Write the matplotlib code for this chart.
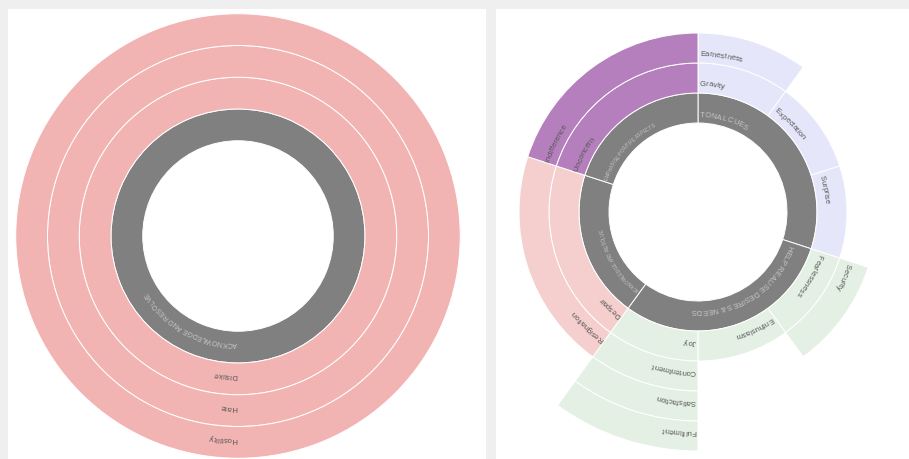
import numpy as np
import matplotlib
matplotlib.use("Agg")
import matplotlib.pyplot as plt
from matplotlib.patches import Wedge, Rectangle
from matplotlib.font_manager import FontProperties, findfont, get_font

DPI = 100
FONT = "Liberation Sans"

# left sunburst: one chain, each level a full ring
left_chain = ["ACKNOWLEDGE AND RESOLVE", "Dislike", "Hate", "Hostility"]
left_color = "#f2b4b3"

# right sunburst
groups = ["TONAL CUES", "HELP REALISE DESIRES & NEEDS",
          "ACKNOWLEDGE AND RESOLVE", "EMPHASISE POSITIVE ASPECTS"]
group_colors = ["#e6e6fa", "#e4f0e4", "#f5cfce", "#b47fbc"]
branches = [
    ["Gravity", "Earnestness"],
    ["Expectation"],
    ["Surprise"],
    ["Fearlessness", "Security"],
    ["Enthusiasm"],
    ["Joy", "Contentment", "Satisfaction", "Fulfilment"],
    ["Despair", "Resignation"],
    ["Unconcern", "Indifference"],
]
branch_group = [0, 0, 0, 1, 1, 1, 2, 3]
branch_weight = [1, 1, 1, 1, 1, 1, 2, 2]

GREY = "#808080"
LABEL = "#555555"
GREY_LABEL = "#c8c8c8"


def wedge(ax, c, r0, r1, a0, a1, color):
    # a0, a1: degrees clockwise from 12 o'clock
    ax.add_patch(Wedge(c, r1, 90 - a1, 90 - a0, width=r1 - r0,
                       facecolor=color, edgecolor="white", lw=0.7))


def arc_text(ax, text, c, r, start, size, color, pad=2.0):
    font = get_font(findfont(FontProperties(family=FONT)))
    font.set_size(size, DPI)
    s = pad
    for ch in text:
        adv = font.load_char(ord(ch)).linearHoriAdvance / 65536
        a = np.radians(start) + (s + adv / 2) / r
        if ch.strip():
            ax.text(c[0] + r * np.sin(a), c[1] + r * np.cos(a), ch,
                    rotation=-np.degrees(a), rotation_mode="anchor",
                    ha="center", va="baseline", fontsize=size,
                    color=color, family=FONT)
        s += adv


fig = plt.figure(figsize=(9.09, 4.6), dpi=DPI)
fig.patch.set_facecolor("#efefef")
ax = fig.add_axes([0, 0, 1, 1])
ax.set_xlim(0, 909)
ax.set_ylim(0, 460)
ax.axis("off")

ax.add_patch(Rectangle((8, 0), 478, 450, facecolor="white", lw=0))
ax.add_patch(Rectangle((496, 0), 413, 450, facecolor="white", lw=0))

# ---- left chart
cl = (238, 223)
wl = 31.75
hole = 3 * wl
for i, name in enumerate(left_chain):
    r0 = hole + i * wl
    col = GREY if i == 0 else left_color
    ax.add_patch(Wedge(cl, r0 + wl, 0, 360, width=wl, facecolor=col,
                       edgecolor="white", lw=0.7))
    if i == 0:
        arc_text(ax, name, cl, r0 + 10, 180, 5.0, GREY_LABEL, pad=1)
    else:
        arc_text(ax, name, cl, r0 + 10, 180, 5.5, LABEL, pad=1)

# ---- right chart
cr = (698, 247)
w = 30
hole = 89
total = sum(branch_weight)
starts = np.concatenate([[0], np.cumsum(branch_weight)[:-1]]) / total * 360
spans = np.array(branch_weight) / total * 360

grey_sizes = [5.5, 5.5, 3.4, 3.4]
for g, name in enumerate(groups):
    idx = [k for k in range(len(branches)) if branch_group[k] == g]
    a0 = starts[idx[0]]
    a1 = starts[idx[-1]] + spans[idx[-1]]
    wedge(ax, cr, hole, hole + w, a0, a1, GREY)
    arc_text(ax, name, cr, hole + 7, a0, grey_sizes[g], GREY_LABEL)

for k, chain in enumerate(branches):
    a0 = starts[k]
    a1 = a0 + spans[k]
    col = group_colors[branch_group[k]]
    for lvl, name in enumerate(chain):
        r0 = hole + (lvl + 1) * w
        wedge(ax, cr, r0, r0 + w, a0, a1, col)
        arc_text(ax, name, cr, r0 + 8, a0, 5.5, LABEL)

fig.savefig("out.png", dpi=DPI, facecolor=fig.get_facecolor())
